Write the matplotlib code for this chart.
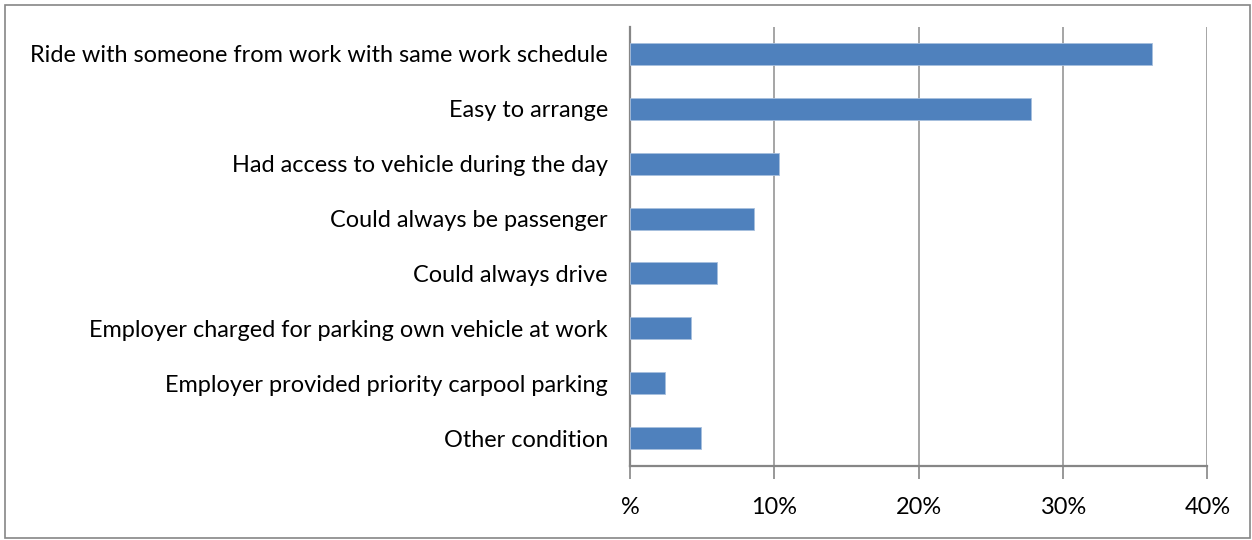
import matplotlib
matplotlib.use("Agg")
import matplotlib.pyplot as plt
from matplotlib.patches import Rectangle

categories = [
    "Ride with someone from work with same work schedule",
    "Easy to arrange",
    "Had access to vehicle during the day",
    "Could always be passenger",
    "Could always drive",
    "Employer charged for parking own vehicle at work",
    "Employer provided priority carpool parking",
    "Other condition",
]
values = [36.2, 27.8, 10.3, 8.6, 6.0, 4.2, 2.4, 4.9]
tick_values = [0, 10, 20, 30, 40]
tick_labels = ["%", "10%", "20%", "30%", "40%"]

plt.rcParams['font.family'] = ['Lato', 'DejaVu Sans']

fig = plt.figure(figsize=(12.52, 5.4), dpi=100)
ax = fig.add_axes([630/1252, 1-465.5/540, (1207.3-630)/1252, (465.5-26.5)/540])

y = list(range(len(categories)))
ax.barh(y, values, height=0.4, color="#4F81BD", edgecolor="#A7BFDE", linewidth=0.6, zorder=3)
ax.set_ylim(len(categories)-0.5, -0.5)
ax.set_xlim(0, 40)
ax.set_yticks(y)
ax.set_yticklabels(categories, fontsize=16.9, color="#000000")
ax.set_xticks(tick_values)
ax.set_xticklabels(tick_labels, fontsize=16.9, color="#000000")
ax.tick_params(axis='y', length=0, pad=16)
ax.tick_params(axis='x', length=9, width=1.2, color="#868686", pad=14, direction='out')
ax.grid(axis='x', color="#969696", linewidth=1.2, zorder=0)
for s in ['top', 'right']:
    ax.spines[s].set_visible(False)
for s in ['left', 'bottom']:
    ax.spines[s].set_color("#868686")
    ax.spines[s].set_linewidth(1.6)

fig.patches.append(Rectangle((5/1252, 1-538/540), (1250-5)/1252, (538-5)/540,
                             transform=fig.transFigure, fill=False,
                             edgecolor="#868686", linewidth=1.2))

fig.savefig("out.png", dpi=100)
